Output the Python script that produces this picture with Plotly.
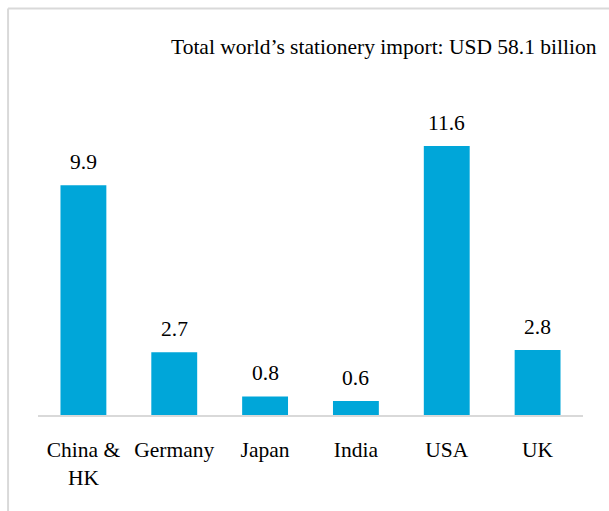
import plotly.graph_objects as go

categories = ["China &<br>HK", "Germany", "Japan", "India", "USA", "UK"]
values = [9.9, 2.7, 0.8, 0.6, 11.6, 2.8]
value_labels = ["9.9", "2.7", "0.8", "0.6", "11.6", "2.8"]
title_text = "Total world\u2019s stationery import: USD 58.1 billion"

FONT = "Liberation Serif, Times New Roman, serif"
FS = 21.5

W, H = 609, 511
L, R, T, B = 37.5, 25.5, 70, 96
PW, PH = W - L - R, H - T - B

fig = go.Figure()
fig.add_trace(go.Bar(
    x=categories, y=values, cliponaxis=False,
    marker=dict(color="#00A6D9", line=dict(width=0)),
    width=0.505,
))

annotations = [dict(x=c, y=v, text=t, xref="x", yref="y", showarrow=False,
                    yanchor="middle", yshift=23,
                    font=dict(family=FONT, size=FS, color="#000000"))
               for c, v, t in zip(categories, values, value_labels)]
annotations.append(dict(text=title_text, xref="paper", yref="paper",
                        x=(600 - L) / PW, y=1 + (T - 47) / PH,
                        xanchor="right", yanchor="middle", showarrow=False,
                        font=dict(family=FONT, size=FS, color="#000000")))

fig.update_layout(
    width=W, height=H,
    margin=dict(l=L, r=R, t=T, b=B, autoexpand=False),
    paper_bgcolor="white", plot_bgcolor="white",
    showlegend=False,
    font=dict(family=FONT, size=FS, color="#000000"),
    xaxis=dict(showline=True, linecolor="#D9D9D9", linewidth=2,
               ticks="", showgrid=False, automargin=False,
               ticklabelstandoff=14,
               tickfont=dict(family=FONT, size=FS, color="#000000")),
    yaxis=dict(visible=False, range=[0, (415 - T) / 23.2], showgrid=False),
    annotations=annotations,
    shapes=[
        dict(type="line", xref="paper", yref="paper",
             x0=(7.5 - L) / PW, x1=(W + 5 - L) / PW,
             y0=1 + (T - 8.5) / PH, y1=1 + (T - 8.5) / PH,
             line=dict(color="#D9D9D9", width=2)),
        dict(type="line", xref="paper", yref="paper",
             x0=(7.5 - L) / PW, x1=(7.5 - L) / PW,
             y0=1 + (T - 8.5) / PH, y1=-(B + 5) / PH,
             line=dict(color="#D9D9D9", width=2)),
    ],
)
fig.write_html("out.html", config={"displayModeBar": False},
               post_script="document.body.style.margin='0';")
